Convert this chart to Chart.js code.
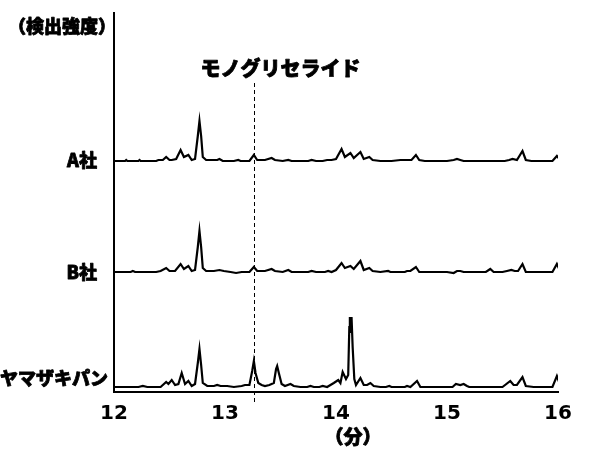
<!DOCTYPE html>
<html><head><meta charset="utf-8">
<script src="https://cdn.jsdelivr.net/npm/chart.js@4/dist/chart.umd.min.js"></script>
<style>html,body{margin:0;padding:0;background:#fff}</style>
</head><body>
<canvas id="c" width="596" height="453"></canvas>
<script>
// ---- data ----
const seriesNames = ['A社', 'B社', 'ヤマザキパン'];
const xTicks = [12, 13, 14, 15, 16];
const markerTime = 13.26;
const markerLabel = 'モノグリセライド';
const yAxisTitle = '（検出強度）';
const xAxisTitle = '（分）';

// [retention time (min), intensity]
const seriesA = [[12.00,0],[12.10,0],[12.11,1],[12.12,0],[12.22,0],[12.23,1],[12.24,0],[12.38,0],[12.40,1],[12.44,1],[12.47,4],[12.50,1],[12.52,1],[12.56,2],[12.60,11],[12.63,4],[12.67,6],[12.70,1],[12.73,2],[12.755,25],[12.77,40],[12.785,25],[12.80,4],[12.83,1],[12.86,1],[12.93,1],[12.95,2],[12.98,0],[13.08,0],[13.12,1],[13.14,0],[13.22,0],[13.26,6],[13.29,1],[13.36,1],[13.42,3],[13.45,1],[13.52,0],[13.57,1],[13.60,0],[13.75,0],[13.78,1],[13.82,0],[13.88,0],[13.92,1],[13.96,1],[14.00,2],[14.05,12],[14.08,4],[14.13,8],[14.16,3],[14.22,9],[14.25,2],[14.30,4],[14.33,1],[14.40,0],[14.50,0],[14.58,1],[14.62,1],[14.68,1],[14.72,6],[14.75,1],[14.80,0],[15.00,0],[15.06,1],[15.09,2],[15.12,1],[15.15,0],[15.40,0],[15.52,0],[15.56,1],[15.59,2],[15.63,1],[15.68,10],[15.71,1],[15.76,0],[15.85,0],[15.95,0],[15.99,5],[16.02,1]];
const seriesB = [[12.00,0],[12.15,0],[12.17,1],[12.19,0],[12.30,0],[12.38,0],[12.42,1],[12.47,4],[12.50,1],[12.55,1],[12.60,8],[12.63,3],[12.67,6],[12.70,1],[12.73,2],[12.755,25],[12.77,41],[12.785,25],[12.80,4],[12.83,1],[12.90,1],[12.95,2],[12.99,1],[13.05,0],[13.10,-1],[13.15,0],[13.22,0],[13.26,5],[13.29,1],[13.36,1],[13.42,3],[13.45,1],[13.52,0],[13.57,2],[13.60,0],[13.75,0],[13.78,1],[13.82,0],[13.90,0],[13.93,1],[13.96,0],[14.00,2],[14.05,9],[14.08,4],[14.13,6],[14.16,3],[14.22,11],[14.25,2],[14.30,4],[14.33,1],[14.40,0],[14.47,1],[14.49,0],[14.62,0],[14.64,1],[14.67,1],[14.72,5],[14.75,0],[15.00,0],[15.06,-1],[15.09,1],[15.12,1],[15.15,0],[15.35,0],[15.39,3],[15.42,0],[15.50,0],[15.54,1],[15.58,2],[15.61,1],[15.64,1],[15.68,8],[15.71,0],[15.80,0],[15.95,0],[15.99,8],[16.02,1]];
const seriesY = [[12.00,0],[12.22,0],[12.26,1],[12.30,0],[12.42,0],[12.47,5],[12.49,3],[12.52,7],[12.55,2],[12.58,3],[12.61,14],[12.64,3],[12.67,6],[12.70,1],[12.73,3],[12.755,24],[12.77,38],[12.785,22],[12.80,4],[12.84,1],[12.90,1],[12.93,2],[12.96,1],[13.02,1],[13.08,0],[13.15,1],[13.18,2],[13.22,2],[13.245,16],[13.26,26],[13.275,14],[13.30,4],[13.33,2],[13.36,1],[13.40,2],[13.44,4],[13.46,18],[13.47,21],[13.485,14],[13.51,3],[13.54,1],[13.59,3],[13.62,1],[13.68,0],[13.74,0],[13.77,1],[13.80,0],[13.85,0],[13.88,1],[13.92,0],[13.95,2],[13.98,4],[14.02,7],[14.04,4],[14.06,15],[14.09,8],[14.11,12],[14.12,60],[14.125,70],[14.13,55],[14.135,62],[14.14,70],[14.15,40],[14.165,8],[14.18,2],[14.22,9],[14.25,2],[14.28,2],[14.31,4],[14.34,1],[14.40,0],[14.45,0],[14.48,1],[14.50,0],[14.62,0],[14.64,1],[14.67,0],[14.73,6],[14.76,0],[14.95,0],[15.05,0],[15.08,3],[15.12,2],[15.15,3],[15.18,1],[15.20,0],[15.50,0],[15.57,6],[15.60,2],[15.63,2],[15.68,10],[15.71,1],[15.78,0],[15.95,0],[15.99,11],[16.02,2]];

// ---- layout / style (not data) ----
const traceOffsets = [231, 120, 5];
const labelRight = [97, 97, 108];
const labelCenterValue = [232, 120, 14];
const JP = '"Noto Sans CJK JP", "Noto Sans", sans-serif';

const allSeries = [seriesA, seriesB, seriesY];
const datasets = allSeries.map((s, i) => ({
  label: seriesNames[i],
  data: s.map(p => ({ x: p[0], y: p[1] + traceOffsets[i] })),
  borderColor: '#000',
  borderWidth: 2.2,
  pointRadius: 0,
  tension: 0,
  fill: false
}));

function heavyText(ctx, text, x, y) {
  ctx.lineWidth = 0.8;
  ctx.lineJoin = 'round';
  ctx.strokeText(text, x, y);
  ctx.fillText(text, x, y);
}

const annotations = {
  id: 'annotations',
  afterDatasetsDraw(chart) {
    const { ctx, scales: { x, y } } = chart;
    ctx.save();
    // dashed marker line
    const mx = Math.round(x.getPixelForValue(markerTime)) + 0.5;
    ctx.strokeStyle = '#000';
    ctx.lineWidth = 1;
    ctx.setLineDash([4, 3]);
    ctx.beginPath();
    ctx.moveTo(mx, 83);
    ctx.lineTo(mx, 404);
    ctx.stroke();
    ctx.setLineDash([]);
    ctx.fillStyle = '#000';
    ctx.textBaseline = 'middle';
    ctx.font = '900 20px ' + JP;
    ctx.textAlign = 'center';
    heavyText(ctx, markerLabel, mx + 26, 68);
    // y axis title
    ctx.font = '900 18px ' + JP;
    ctx.textAlign = 'left';
    heavyText(ctx, yAxisTitle, 8, 26);
    // series labels
    ctx.font = '900 18px ' + JP;
    ctx.textAlign = 'right';
    seriesNames.forEach((n, i) => {
      heavyText(ctx, n, labelRight[i], y.getPixelForValue(labelCenterValue[i]));
    });
    // x axis title
    ctx.font = '900 19px ' + JP;
    ctx.textAlign = 'center';
    heavyText(ctx, xAxisTitle, (x.left + x.right) / 2 + 17, 437);
    ctx.restore();
  }
};

new Chart(document.getElementById('c'), {
  type: 'line',
  data: { datasets },
  plugins: [annotations],
  options: {
    responsive: false,
    animation: false,
    devicePixelRatio: 1,
    layout: { padding: { left: 0, right: 38, top: 13, bottom: 0 } },
    plugins: { legend: { display: false }, tooltip: { enabled: false } },
    scales: {
      x: {
        type: 'linear',
        min: xTicks[0],
        max: xTicks[xTicks.length - 1],
        afterBuildTicks: s => { s.ticks = xTicks.map(v => ({ value: v })); },
        afterFit: s => { s.height = 61; },
        grid: { display: false, drawTicks: false },
        border: { display: true, color: '#000', width: 2 },
        ticks: { color: '#000', padding: 10, font: { family: '"DejaVu Sans", sans-serif', size: 20, weight: 'bold' } },
        title: { display: false }
      },
      y: {
        type: 'linear',
        min: 0,
        max: 379,
        afterFit: s => { s.width = 114; },
        grid: { display: false, drawTicks: false },
        border: { display: true, color: '#000', width: 2 },
        ticks: { display: false }
      }
    }
  }
});
</script>
</body></html>
